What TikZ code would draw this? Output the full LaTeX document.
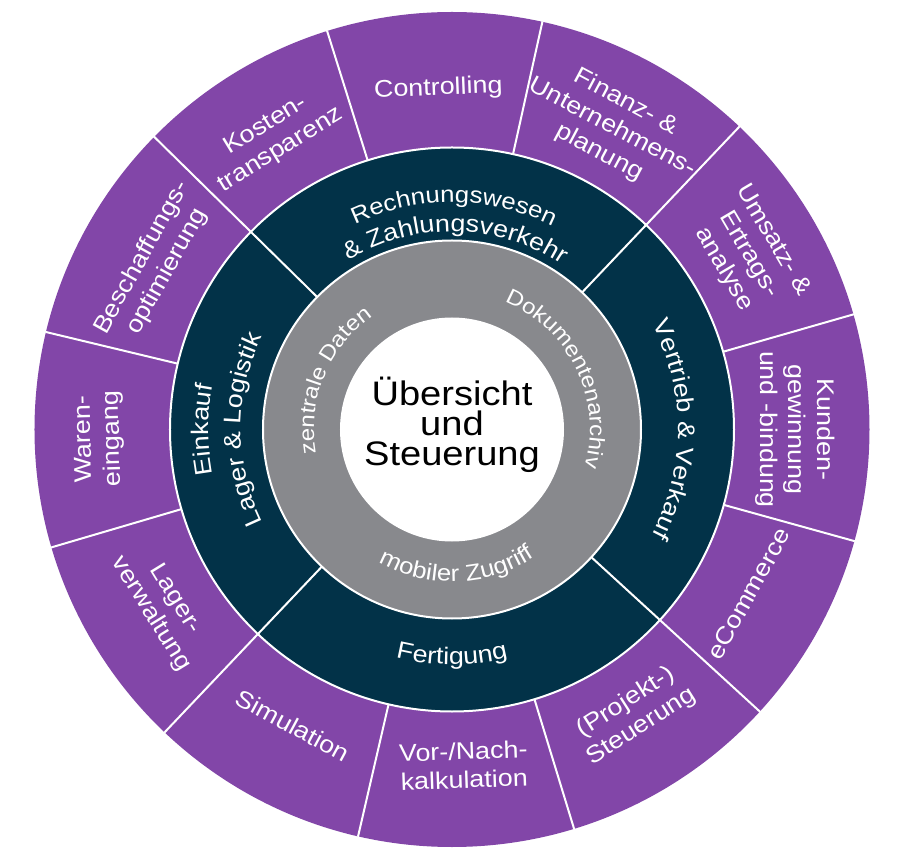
\documentclass[tikz,border=0pt]{standalone}
\usepackage{fontspec}
\setmainfont{Liberation Sans}[FakeStretch=1.12]
\usetikzlibrary{decorations.text}
\definecolor{ringpurple}{RGB}{130,70,168}
\definecolor{ringdark}{RGB}{2,50,72}
\definecolor{ringgray}{RGB}{136,137,141}
\newcommand{\darkfont}{\fontsize{24}{28}\selectfont\color{white}}
\newcommand{\darkfontb}{\fontsize{23}{28}\selectfont\color{white}}
\newcommand{\grayfont}{\fontsize{21.5}{26}\selectfont\color{white}}
\newcommand{\grayfontb}{\fontsize{23}{26}\selectfont\color{white}}
% clockwise arc text: radius, centre angle, half span, format, text
\newcommand{\arctextcw}[5]{%
  \path[decorate,decoration={text along path,text align=center,text color=white,text={|#4|#5}}]
    ({#2+#3}:#1) arc[start angle={#2+#3}, end angle={#2-#3}, radius=#1];}
% counter-clockwise arc text
\newcommand{\arctextccw}[5]{%
  \path[decorate,decoration={text along path,text align=center,text color=white,text={|#4|#5}}]
    ({#2-#3}:#1) arc[start angle={#2-#3}, end angle={#2+#3}, radius=#1];}
\tikzset{
  outertxt/.style={text=white, font=\fontsize{24}{28.5}\selectfont, align=center, inner sep=0pt},
  centertxt/.style={text=black, font=\fontsize{34}{30}\selectfont, align=center, inner sep=0pt},
  sepline/.style={draw=white, line width=2pt}
}
\begin{document}
\begin{tikzpicture}[x=1pt,y=1pt]
  \fill[white] (-452pt,-429.5pt) rectangle (450pt,429.5pt);
  \useasboundingbox (-452pt,-429.5pt) rectangle (450pt,429.5pt);
  % rings
  \fill[ringpurple] (0,0) circle[radius=417.5pt];
  \fill[ringdark] (0,0) circle[radius=282pt];
  \fill[ringgray] (0,0) circle[radius=189pt];
  \fill[white] (0,0) circle[radius=112pt];
  \draw[sepline] (0,0) circle[radius=282pt];
  \draw[sepline] (0,0) circle[radius=189pt];
  % outer segment borders
  \foreach \a in {16,77.5,107.4,166.5,196.4,257,287,344.5}
    \draw[sepline] (\a:282pt) -- (\a:418pt);
  % borders through dark and outer ring
  \foreach \a in {46.5,135.5,226.5,317.5}
    \draw[sepline] (\a:189pt) -- (\a:418pt);
  % centre
  \node[centertxt] (center) at (0,5pt) {Übersicht\\und\\Steuerung};
  % outer ring labels
  \node[outertxt, rotate=-59.5] (umsatz) at (30.5:344pt) {Umsatz- \&\\Ertrags-\\analyse};
  \node[outertxt, rotate=-28] (finanz) at (62:342pt) {Finanz- \&\\Unternehmens-\\planung};
  \node[outertxt, rotate=2.3] (ctrl) at (92.3:341pt) {Controlling};
  \node[outertxt, rotate=31.5] (kosten) at (121.5:342pt) {Kosten-\\transparenz};
  \node[outertxt, rotate=61] (beschaff) at (151:340pt) {Beschaffungs-\\optimierung};
  \node[outertxt, rotate=91.5] (waren) at (181.5:353pt) {Waren-\\eingang};
  \node[outertxt, rotate=-58.5] (lagerv) at (211.5:339pt) {Lager-\\verwaltung};
  \node[outertxt, rotate=-28.3] (sim) at (241.7:336pt) {Simulation};
  \node[outertxt, rotate=2] (vornach) at (272:336pt) {Vor-/Nach-\\kalkulation};
  \node[outertxt, rotate=32.5] (projekt) at (302.5:338pt) {(Projekt-)\\Steuerung};
  \node[outertxt, rotate=61] (ecom) at (331:339pt) {eCommerce};
  \node[outertxt, rotate=-90] (kunden) at (0:343pt) {Kunden-\\gewinnung\\und -bindung};
  % dark ring labels (curved)
  \arctextcw{227pt}{89.5}{70}{\darkfontb}{Rechnungswesen}
  \arctextcw{198pt}{89}{80}{\darkfont}{{\&} Zahlungsverkehr}
  \arctextcw{226pt}{0}{70}{\darkfont}{Vertrieb {\&} Verkauf}
  \arctextccw{235pt}{270}{60}{\darkfont}{Fertigung}
  \arctextcw{243pt}{180}{60}{\darkfont}{Einkauf}
  \arctextcw{211pt}{180}{70}{\darkfont}{Lager {\&} Logistik}
  % grey ring labels (curved)
  \arctextcw{138pt}{26}{85}{\grayfont}{Dokumentenarchiv}
  \arctextcw{138pt}{157.5}{80}{\grayfont}{zentrale Daten}
  \arctextccw{152pt}{272}{70}{\grayfontb}{mobiler Zugriff}
\end{tikzpicture}
\end{document}
